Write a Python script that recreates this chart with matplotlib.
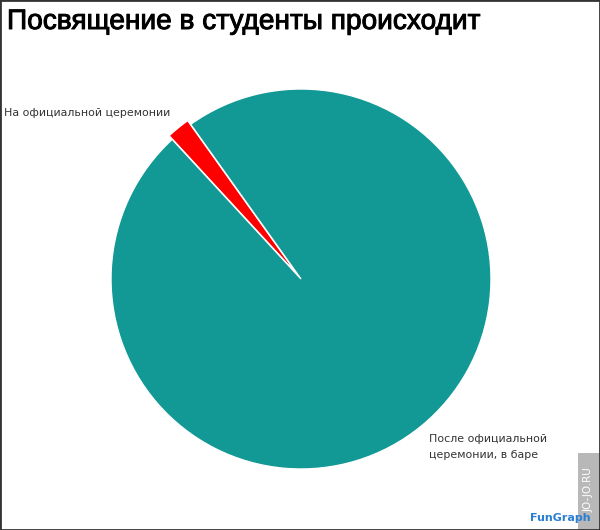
import matplotlib
matplotlib.use("Agg")
import matplotlib.pyplot as plt
import matplotlib.patheffects as pe
from matplotlib.patches import Rectangle

# data
labels = ["На официальной церемонии", "После официальной\nцеремонии, в баре"]
shares = [2, 98]
colors = ["#ff0000", "#129895"]
title = "Посвящение в студенты происходит"

W, H = 600, 530
fig = plt.figure(figsize=(W / 100, H / 100), dpi=100)
fig.patch.set_facecolor("white")

# pie axes: centre (301, 279) px, radius 190 px
cx, cy, r = 301, 279, 190
half = 210
ax = fig.add_axes([(cx - half) / W, (H - cy - half) / H, 2 * half / W, 2 * half / H])

wedges, _ = ax.pie(shares, colors=colors, startangle=125.5, counterclock=True,
                   explode=[0.025, 0], radius=1,
                   wedgeprops=dict(edgecolor="white", linewidth=1.0))
# pie() resets the limits, so set them afterwards
ax.set_xlim(-half / r, half / r)
ax.set_ylim(-half / r, half / r)
ax.set_aspect("equal")
ax.axis("off")

def px(x, y):
    return x / W, 1 - y / H

fig.text(*px(7, 22), title, fontsize=20.2, family="Liberation Sans",
         ha="left", va="center", color="black",
         path_effects=[pe.withStroke(linewidth=0.7, foreground="black")])

fig.text(*px(4, 113), labels[0], fontsize=7.9, family="DejaVu Sans",
         ha="left", va="center", color="#333333")
fig.text(*px(429, 447), labels[1], fontsize=7.9, family="DejaVu Sans",
         ha="left", va="center", color="#333333", linespacing=1.8)

# watermark bits
fig.patches.append(Rectangle(px(578, 530), 22 / W, 77 / H, transform=fig.transFigure,
                             facecolor="#b8b8b8", edgecolor="none"))
fig.text(*px(589, 490), "JO-JO.RU", rotation=90, fontsize=7.5, color="white",
         ha="center", va="center", family="DejaVu Sans")
fig.text(*px(530, 518), "FunGraph", fontsize=8, color="#2a7fd4", fontweight="bold",
         ha="left", va="center", family="DejaVu Sans")

# outer frame
fig.patches.append(Rectangle((0, 0), 1, 1, transform=fig.transFigure,
                             facecolor="none", edgecolor="#333333", linewidth=2))

fig.savefig("out.png", dpi=100)
